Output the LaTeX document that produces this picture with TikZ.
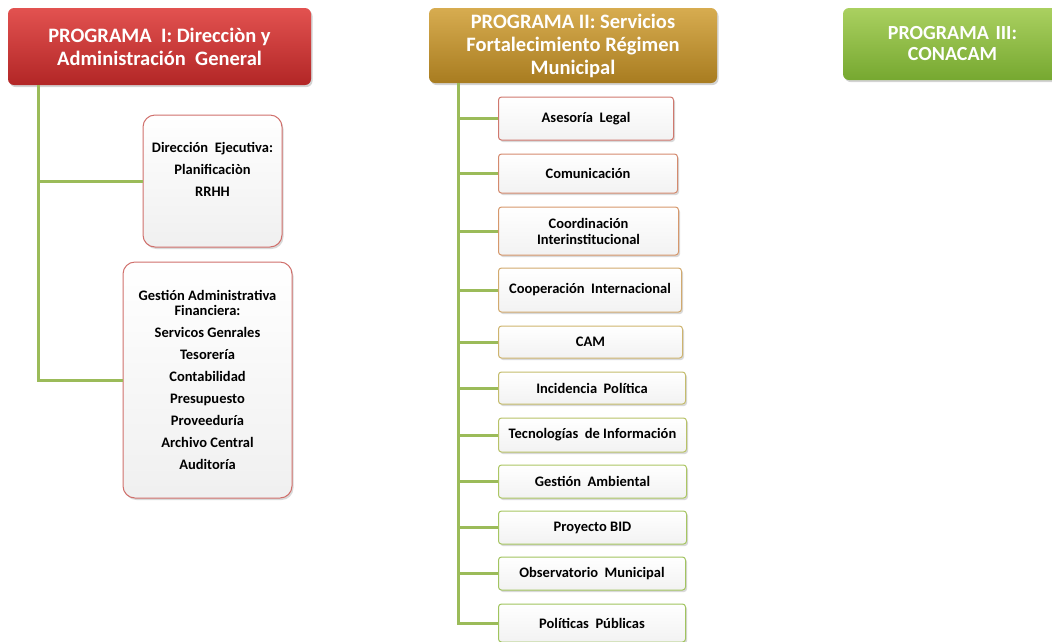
\documentclass[tikz,border=0pt]{standalone}
\usepackage{fontspec}
\setmainfont{Carlito}
\usetikzlibrary{shadows}
\definecolor{linegreen}{HTML}{9BBB59}
\definecolor{bred}{HTML}{D0706C}
\tikzset{
  x=1pt, y=-1pt,
  head/.style={rounded corners=6pt, draw=none, text=white, font=\bfseries\fontsize{20.5}{23}\selectfont,
    align=center, drop shadow={shadow xshift=1.5pt, shadow yshift=-2pt, opacity=0.35}},
  sub/.style={rounded corners=12pt, draw=bred, line width=1pt, top color=white, bottom color=gray!12,
    font=\bfseries\fontsize{14.5}{15}\selectfont, align=center,
    drop shadow={shadow xshift=1.5pt, shadow yshift=-2pt, opacity=0.3}},
  item/.style={rounded corners=3pt, line width=1pt, top color=white, bottom color=gray!10,
    font=\bfseries\fontsize{14.5}{16}\selectfont, align=center, anchor=west, inner sep=2pt,
    drop shadow={shadow xshift=1.5pt, shadow yshift=-2pt, opacity=0.3}},
  conn/.style={draw=linegreen, line width=3pt}
}
\begin{document}
\begin{tikzpicture}
\useasboundingbox (0,0) rectangle (1052,641);
% headers
\node[head, top color={rgb,255:red,226;green,82;blue,80}, bottom color={rgb,255:red,178;green,38;blue,38},
      minimum width=303, minimum height=77] (p1) at (159.5,46.5)
  {PROGRAMA \ I: Direcciòn y\\Administración \ General};
\node[head, top color={rgb,255:red,215;green,172;blue,80}, bottom color={rgb,255:red,168;green,124;blue,32},
      minimum width=288, minimum height=75] (p2) at (573,45.5)
  {PROGRAMA II: Servicios\\Fortalecimiento Régimen\\Municipal};
\node[head, top color={rgb,255:red,170;green,208;blue,96}, bottom color={rgb,255:red,118;green,168;blue,48},
      minimum width=219, minimum height=72, text width=200, font=\bfseries\fontsize{20}{21}\selectfont] (p3) at (952.5,44)
  {PROGRAMA III:\\CONACAM};
% program I
\node[sub, minimum width=139, minimum height=132] (de) at (212.5,181)
  {Dirección \ Ejecutiva:\\[7pt]Planificaciòn\\[7pt]RRHH\\[9pt]};
\node[sub, minimum width=169, minimum height=236] (gaf) at (207.5,380)
  {Gestión Administrativa\\Financiera:\\[7pt]Servicos Genrales\\[7pt]Tesorería\\[7pt]Contabilidad\\[7pt]Presupuesto\\[7pt]Proveeduría\\[7pt]Archivo Central\\[7pt]Auditoría};
\coordinate (v1) at (38,85);
\draw[conn] (v1) |- (gaf.west);
\draw[conn] (de.west) -- (de.west -| v1);
% program II
\node[item, draw={rgb,255:red,208;green,120;blue,110}, minimum width=175, minimum height=43] (a1) at (498,118.5) {Asesoría \ Legal};
\node[item, draw={rgb,255:red,212;green,138;blue,110}, minimum width=179, minimum height=39] (a2) at (498,173.5) {Comunicación};
\node[item, draw={rgb,255:red,214;green,152;blue,108}, minimum width=180, minimum height=48] (a3) at (498,231) {Coordinación\\Interinstitucional};
\node[item, draw={rgb,255:red,210;green,170;blue,110}, minimum width=183, minimum height=44] (a4) at (498,290) {Cooperación \ Internacional};
\node[item, draw={rgb,255:red,206;green,180;blue,110}, minimum width=184, minimum height=32] (a5) at (498,342) {CAM};
\node[item, draw={rgb,255:red,196;green,188;blue,108}, minimum width=187, minimum height=32] (a6) at (498,388) {Incidencia \ Política};
\node[item, draw={rgb,255:red,184;green,194;blue,104}, minimum width=188, minimum height=34] (a7) at (498,435) {Tecnologías \ de Información};
\node[item, draw={rgb,255:red,172;green,198;blue,100}, minimum width=188, minimum height=33] (a8) at (498,481.5) {Gestión \ Ambiental};
\node[item, draw={rgb,255:red,166;green,198;blue,98}, minimum width=188, minimum height=33] (a9) at (498,527.5) {Proyecto BID};
\node[item, draw={rgb,255:red,162;green,196;blue,96}, minimum width=187, minimum height=33] (a10) at (498,573.5) {Observatorio \ Municipal};
\node[item, draw={rgb,255:red,160;green,196;blue,94}, minimum width=187, minimum height=38] (a11) at (498,623) {Políticas \ Públicas};
\coordinate (v2) at (458,83);
\draw[conn] (v2) |- (a11.west);
\foreach \n in {a1,a2,a3,a4,a5,a6,a7,a8,a9,a10}
  \draw[conn] (\n.west) -- (\n.west -| v2);
\end{tikzpicture}
\end{document}
